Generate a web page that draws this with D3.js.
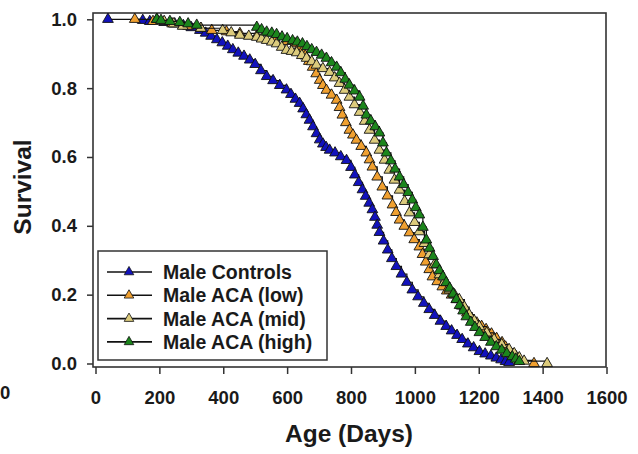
<!DOCTYPE html>
<html>
<head>
  <title></title>
  <script src="https://cdn.jsdelivr.net/npm/d3@7"></script>
  <style>
    body { margin: 0; background: #fff; }
    text { font-family: "Liberation Sans", Arial, sans-serif; font-weight: bold; fill: #1a1a1a; }
  </style>
</head>
<body>
<script type="text/javascript">
// survival data: [age in days, fraction alive]
var controls = [[39,1.0],[148,0.997],[170,0.994],[215,0.991],[248,0.987],[275,0.982],[300,0.976],[327,0.968],[345,0.960],[362,0.951],[380,0.941],[397,0.932],[414,0.922],[430,0.912],[447,0.902],[465,0.893],[483,0.882],[500,0.869],[518,0.851],[536,0.834],[556,0.822],[577,0.808],[598,0.795],[612,0.782],[626,0.768],[639,0.756],[650,0.740],[660,0.723],[670,0.707],[681,0.688],[692,0.668],[702,0.650],[712,0.638],[722,0.628],[733,0.620],[750,0.612],[768,0.601],[786,0.590],[800,0.570],[812,0.548],[824,0.526],[836,0.505],[846,0.486],[857,0.466],[867,0.447],[875,0.425],[882,0.402],[889,0.381],[902,0.356],[915,0.330],[928,0.305],[942,0.282],[958,0.260],[975,0.236],[992,0.214],[1010,0.194],[1028,0.175],[1045,0.157],[1062,0.140],[1080,0.123],[1098,0.108],[1115,0.095],[1132,0.082],[1148,0.070],[1166,0.057],[1184,0.046],[1202,0.035],[1220,0.028],[1238,0.022],[1255,0.016],[1270,0.011],[1284,0.006],[1295,0.003]];

var acaLow = [[123,1.0],[180,0.994],[240,0.987],[290,0.980],[330,0.974],[364,0.968],[410,0.964],[452,0.959],[505,0.952],[561,0.945],[600,0.936],[625,0.929],[639,0.922],[648,0.908],[657,0.894],[668,0.878],[680,0.861],[691,0.842],[702,0.823],[712,0.808],[723,0.794],[739,0.780],[755,0.765],[764,0.744],[773,0.722],[784,0.700],[795,0.678],[806,0.664],[817,0.649],[832,0.631],[848,0.612],[858,0.592],[867,0.571],[882,0.542],[898,0.513],[914,0.487],[930,0.461],[941,0.439],[952,0.417],[967,0.399],[983,0.380],[998,0.360],[1014,0.339],[1024,0.317],[1034,0.295],[1045,0.273],[1055,0.252],[1070,0.238],[1086,0.223],[1100,0.211],[1115,0.199],[1130,0.186],[1147,0.167],[1163,0.147],[1180,0.128],[1194,0.118],[1209,0.108],[1223,0.099],[1240,0.086],[1256,0.073],[1273,0.061],[1284,0.048],[1295,0.035],[1306,0.027],[1317,0.020],[1327,0.009],[1373,0.0]];

var acaMid = [[192,1.0],[215,0.994],[245,0.987],[273,0.980],[330,0.974],[398,0.968],[425,0.961],[452,0.954],[480,0.951],[505,0.948],[520,0.943],[536,0.939],[552,0.934],[567,0.929],[583,0.919],[598,0.910],[614,0.907],[630,0.903],[646,0.895],[661,0.887],[677,0.877],[692,0.867],[712,0.857],[733,0.846],[749,0.830],[764,0.814],[780,0.794],[795,0.774],[811,0.752],[827,0.730],[843,0.704],[858,0.678],[874,0.649],[889,0.620],[905,0.591],[920,0.562],[936,0.533],[952,0.504],[968,0.471],[983,0.438],[999,0.410],[1014,0.383],[1030,0.349],[1045,0.316],[1061,0.287],[1077,0.258],[1092,0.236],[1108,0.214],[1124,0.200],[1139,0.186],[1155,0.164],[1170,0.142],[1186,0.124],[1202,0.107],[1225,0.089],[1248,0.070],[1272,0.055],[1295,0.041],[1311,0.029],[1327,0.017],[1342,0.007],[1414,0.0]];

var acaHigh = [[192,1.0],[205,0.997],[233,0.994],[264,0.991],[290,0.987],[317,0.983],[505,0.977],[520,0.970],[536,0.963],[552,0.960],[567,0.956],[584,0.949],[600,0.944],[617,0.938],[632,0.934],[648,0.929],[662,0.921],[677,0.912],[692,0.904],[708,0.896],[723,0.887],[739,0.874],[755,0.861],[768,0.845],[782,0.826],[795,0.809],[811,0.792],[827,0.774],[838,0.748],[848,0.722],[862,0.705],[876,0.688],[889,0.670],[900,0.641],[911,0.612],[925,0.589],[938,0.565],[952,0.542],[965,0.520],[979,0.497],[992,0.475],[1003,0.453],[1014,0.432],[1025,0.396],[1036,0.359],[1046,0.335],[1057,0.311],[1067,0.287],[1077,0.270],[1088,0.252],[1098,0.235],[1109,0.219],[1120,0.202],[1130,0.186],[1140,0.169],[1151,0.153],[1161,0.136],[1175,0.120],[1188,0.105],[1202,0.090],[1220,0.076],[1238,0.062],[1255,0.049],[1272,0.039],[1288,0.029],[1305,0.020],[1316,0.013],[1327,0.006]];

var seriesNames = ["Male Controls", "Male ACA (low)", "Male ACA (mid)", "Male ACA (high)"];
var seriesData = [controls, acaLow, acaMid, acaHigh];
var seriesColors = ["#1212bc", "#f0a030", "#dccb7c", "#1c861c"];
var xTicks = [0, 200, 400, 600, 800, 1000, 1200, 1400, 1600];
var yTicks = [0.0, 0.2, 0.4, 0.6, 0.8, 1.0];

var width = 638, height = 454;

var svg = d3.select("body")
            .append("svg")
            .attr("width", width)
            .attr("height", height);

//scales
var x = d3.scaleLinear().domain([0, 1600]).range([95.5, 606.5]);
var y = d3.scaleLinear().domain([0, 1]).range([363.5, 19.3]);

//plot frame
svg.append("rect")
   .attr("x", 93).attr("y", 13)
   .attr("width", 513).attr("height", 354)
   .attr("fill", "none")
   .attr("stroke", "#333")
   .attr("stroke-width", 1.6);

//axes
var yAxis = svg.append("g")
   .attr("transform", "translate(93,0)")
   .call(d3.axisLeft(y).tickValues(yTicks).tickFormat(d3.format(".1f")).tickSize(6).tickPadding(10));
var xAxis = svg.append("g")
   .attr("transform", "translate(0,367)")
   .call(d3.axisBottom(x).tickValues(xTicks).tickFormat(d3.format("d")).tickSize(7).tickPadding(17));
[xAxis, yAxis].forEach(function(a){
  a.select(".domain").remove();
  a.selectAll(".tick line").attr("stroke", "#333").attr("stroke-width", 1.5);
  a.selectAll(".tick text").style("font-size", "18.5px").attr("fill", "#1a1a1a");
});

//stray label at the left edge
svg.append("text")
   .attr("x", 0).attr("y", 399)
   .style("font-size", "18.5px")
   .text("0");

//axis titles
svg.append("text")
   .attr("x", 349).attr("y", 442)
   .attr("text-anchor", "middle")
   .style("font-size", "24.5px")
   .text("Age (Days)");
svg.append("text")
   .attr("transform", "translate(31,187) rotate(-90)")
   .attr("text-anchor", "middle")
   .style("font-size", "24.5px")
   .text("Survival");

//survival curves
var line = d3.line()
             .x(function(d){return x(d[0]);})
             .y(function(d){return y(d[1]);})
             .curve(d3.curveStepAfter);
var tri = d3.symbol().type(d3.symbolTriangle).size(50);

seriesData.forEach(function(data, i){
  var g = svg.append("g");
  g.append("path")
   .attr("d", line(data))
   .attr("fill", "none")
   .attr("stroke", "#111")
   .attr("stroke-width", 1.2);
  g.selectAll("path.pt")
   .data(data)
   .enter()
   .append("path")
   .attr("class", "pt")
   .attr("d", tri)
   .attr("transform", function(d){return "translate(" + x(d[0]) + "," + y(d[1]) + ")";})
   .attr("fill", seriesColors[i])
   .attr("stroke", "#111")
   .attr("stroke-width", 0.9);
});

//legend
var legend = svg.append("g");
legend.append("rect")
   .attr("x", 98).attr("y", 251)
   .attr("width", 229).attr("height", 109)
   .attr("fill", "#fff")
   .attr("stroke", "#333")
   .attr("stroke-width", 1.5);
var rows = legend.selectAll(".row")
   .data(seriesNames)
   .enter()
   .append("g")
   .attr("class", "row")
   .attr("transform", function(d, i){return "translate(0," + (272 + i * 23.3) + ")";});
rows.append("line")
   .attr("x1", 107).attr("x2", 152)
   .attr("stroke", "#111").attr("stroke-width", 1.6);
rows.append("path")
   .attr("d", d3.symbol().type(d3.symbolTriangle).size(40))
   .attr("transform", "translate(129,0)")
   .attr("fill", function(d, i){return seriesColors[i];})
   .attr("stroke", "#111")
   .attr("stroke-width", 0.8);
rows.append("text")
   .attr("x", 163)
   .attr("dy", "0.36em")
   .style("font-size", "19.5px")
   .text(function(d){return d;});
</script>
</body>
</html>
